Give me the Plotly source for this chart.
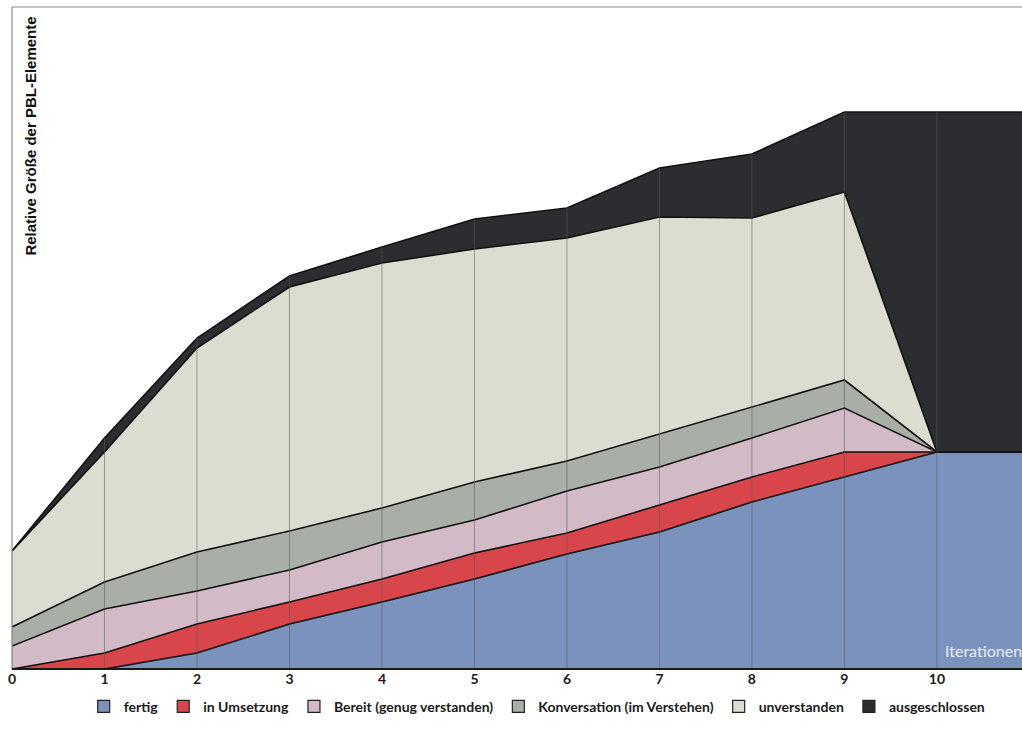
import plotly.graph_objects as go

iterations = [0, 1, 2, 3, 4, 5, 6, 7, 8, 9, 10, 11]
tick_labels = ["0", "1", "2", "3", "4", "5", "6", "7", "8", "9", "10"]

fertig = [0, 0, 16, 45, 67, 90, 115, 137, 167, 192, 217, 217]
in_umsetzung = [0, 16, 29, 22, 23, 26, 21, 27, 25, 25, 0, 0]
bereit = [23, 44, 33, 32, 37, 33, 42, 38, 39, 44, 0, 0]
konversation = [19, 27, 39, 39, 34, 38, 30, 33, 31, 28, 0, 0]
unverstanden = [76, 130, 204, 244, 245, 233, 223, 217, 189, 188, 0, 0]
ausgeschlossen = [0, 14, 10, 11, 16, 30, 30, 49, 64, 80, 340, 340]

series = [
    ("fertig", fertig, "#7b93bc"),
    ("in Umsetzung", in_umsetzung, "#d8464b"),
    ("Bereit (genug verstanden)", bereit, "#d2bac6"),
    ("Konversation (im Verstehen)", konversation, "#a9aea6"),
    ("unverstanden", unverstanden, "#dcddd0"),
    ("ausgeschlossen", ausgeschlossen, "#2c2d31"),
]

fig = go.Figure()
for name, vals, col in series:
    fig.add_trace(go.Scatter(
        x=iterations, y=vals, name=name, stackgroup="s", mode="lines",
        line=dict(color="#111111", width=1.6), fillcolor=col,
        showlegend=False, hoverinfo="skip",
    ))
for name, vals, col in series:
    fig.add_trace(go.Bar(
        x=[None], y=[None], name=name,
        marker=dict(color=col, line=dict(color="#222222", width=1.2)),
        showlegend=True,
    ))

totals = [sum(v) for v in zip(*[s[1] for s in series])]
for xi, tot in zip(iterations[:11], totals[:11]):
    fig.add_shape(type="line", x0=xi, x1=xi, y0=0, y1=tot, xref="x", yref="y",
                  line=dict(color="rgba(90,90,90,0.55)", width=1), layer="above")

fig.add_shape(type="line", xref="paper", yref="paper", x0=0, x1=0, y0=0, y1=1,
              line=dict(color="#8a8a8a", width=1.2), layer="above")
fig.add_shape(type="line", xref="paper", yref="paper", x0=0, x1=1, y0=1, y1=1,
              line=dict(color="#8a8a8a", width=1.2), layer="above")
fig.add_shape(type="line", xref="paper", yref="paper", x0=0, x1=1, y0=0, y1=0,
              line=dict(color="#1a1a1a", width=2), layer="above")

fig.add_annotation(text="Relative Größe der PBL-Elemente", xref="paper", yref="paper",
                   x=0.018, y=0.988, xanchor="center", yanchor="top", textangle=-90,
                   showarrow=False,
                   font=dict(family="Liberation Sans, Arial", size=15, color="#111111", weight="bold"))
fig.add_annotation(text="Iterationen", xref="paper", yref="paper",
                   x=0.922, y=0.01, xanchor="left", yanchor="bottom", showarrow=False,
                   font=dict(family="Lato", size=16, color="#e8ecf4"))

fig.update_layout(
    width=1022, height=746,
    margin=dict(l=12, r=0, t=7, b=77),
    paper_bgcolor="white", plot_bgcolor="white",
    barmode="overlay",
    xaxis=dict(range=[0, 10.92], tickmode="array", tickvals=iterations[:11], ticktext=tick_labels,
               showgrid=False, zeroline=False, showline=False, ticks="",
               tickfont=dict(family="Lato", size=14, color="#1a1a1a", weight="bold")),
    yaxis=dict(range=[0, 662], showgrid=False, zeroline=False, showticklabels=False,
               showline=False, ticks=""),
    legend=dict(orientation="h", x=0.52, xanchor="center", y=-0.057, yanchor="middle",
                traceorder="normal",
                font=dict(family="Lato", size=14, color="#1a1a1a", weight="bold"),
                tracegroupgap=0, bgcolor="rgba(0,0,0,0)"),
    showlegend=True,
)

fig.write_html("out.html", config={"displayModeBar": False},
               post_script="document.body.style.margin='0';document.body.style.padding='0';")
